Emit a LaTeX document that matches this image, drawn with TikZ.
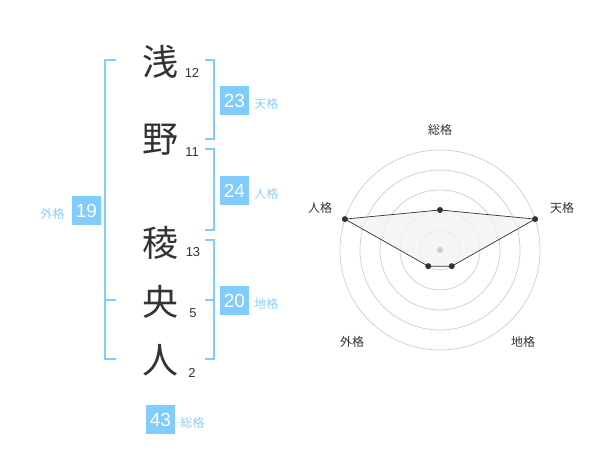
\documentclass[tikz,border=0pt]{standalone}
\usepackage{fontspec}
\usetikzlibrary{positioning}
\setmainfont{Liberation Sans}
\newfontfamily\jpfont{Noto Sans CJK JP}
\definecolor{kakublue}{RGB}{128,204,250}
\definecolor{kakutext}{RGB}{140,208,245}
\definecolor{inkgray}{RGB}{51,51,51}
\definecolor{ringgray}{RGB}{204,204,204}
\definecolor{areagray}{RGB}{242,242,242}
\tikzset{
  kanji/.style={text=inkgray, font=\jpfont\fontsize{36}{36}\selectfont, inner sep=0pt},
  strokes/.style={text=inkgray, font=\fontsize{13}{13}\selectfont, inner sep=0pt},
  kakubox/.style={fill=kakublue, text=white, minimum size=29pt, inner sep=0pt,
    font=\fontsize{19}{19}\selectfont},
  kakuname/.style={text=kakutext, font=\jpfont\fontsize{12}{12}\selectfont, inner sep=0pt},
  bracket/.style={draw=kakublue, line width=1.5pt},
  axisname/.style={text=inkgray, font=\jpfont\fontsize{12}{12}\selectfont, inner sep=0pt},
  dot/.style={circle, fill=inkgray, minimum size=6pt, inner sep=0pt}
}
\begin{document}
\begin{tikzpicture}[x=1pt, y=-1pt]
    \useasboundingbox (0,0) rectangle (600,470);
    % name characters and stroke counts
    \node[kanji] (k1) at (160, 62) {浅};
    \node[kanji] (k2) at (160, 140) {野};
    \node[kanji] (k3) at (160, 243) {稜};
    \node[kanji] (k4) at (160, 302) {央};
    \node[kanji] (k5) at (160, 360) {人};
    \node[strokes] (s1) at (192, 73) {12};
    \node[strokes] (s2) at (192, 152) {11};
    \node[strokes] (s3) at (193, 252) {13};
    \node[strokes] (s4) at (193, 313) {5};
    \node[strokes] (s5) at (192, 373) {2};
    % brackets
    \draw[bracket] (116, 60) -- (105, 60) -- (105, 359) -- (116, 359);
    \draw[bracket] (105, 300) -- (116, 300);
    \draw[bracket] (205, 60) -- (214, 60) -- (214, 139) -- (205, 139);
    \draw[bracket] (205, 149) -- (214, 149) -- (214, 230) -- (205, 230);
    \draw[bracket] (205, 240) -- (214, 240) -- (214, 359) -- (205, 359);
    \draw[bracket] (205, 300) -- (214, 300);
    % values
    \node[kakubox] (ten) at (234.5, 100.5) {23};
    \node[kakuname, right=5pt of ten.east, yshift=-3pt] (tenname) {天格};
    \node[kakubox] (jin) at (234.5, 190.5) {24};
    \node[kakuname, right=5pt of jin.east, yshift=-3pt] (jinname) {人格};
    \node[kakubox] (chi) at (234.5, 300.5) {20};
    \node[kakuname, right=5pt of chi.east, yshift=-3pt] (chiname) {地格};
    \node[kakubox] (gai) at (86.5, 210.5) {19};
    \node[kakuname, left=7pt of gai.west, yshift=-3pt] (gainame) {外格};
    \node[kakubox] (sou) at (160.5, 419.5) {43};
    \node[kakuname, right=5pt of sou.east, yshift=-3pt] (souname) {総格};
    % radar chart
    \begin{scope}[shift={(440, 250)}, y=1pt]
      \foreach \r in {20, 40, 60, 80, 100}
        \draw[ringgray, line width=0.7pt] (0, 0) circle (\r);
      \coordinate (pSou) at (90:40);
      \coordinate (pTen) at (18:100);
      \coordinate (pChi) at (-54:20);
      \coordinate (pGai) at (-126:20);
      \coordinate (pJin) at (162:100);
      \draw[inkgray, fill=areagray, fill opacity=0.8, line width=0.7pt]
        (pSou) -- (pTen) -- (pChi) -- (pGai) -- (pJin) -- cycle;
      \node[circle, fill=ringgray, minimum size=6pt, inner sep=0pt] (mid) at (0, 0) {};
      \node[dot] (dSou) at (pSou) {};
      \node[dot] (dTen) at (pTen) {};
      \node[dot] (dChi) at (pChi) {};
      \node[dot] (dGai) at (pGai) {};
      \node[dot] (dJin) at (pJin) {};
      \node[axisname] (aSou) at (0, 120) {総格};
      \node[axisname] (aTen) at (122, 42) {天格};
      \node[axisname] (aJin) at (-120, 42) {人格};
      \node[axisname] (aGai) at (-88, -92) {外格};
      \node[axisname] (aChi) at (83, -92) {地格};
    \end{scope}
  \end{tikzpicture}
\end{document}
